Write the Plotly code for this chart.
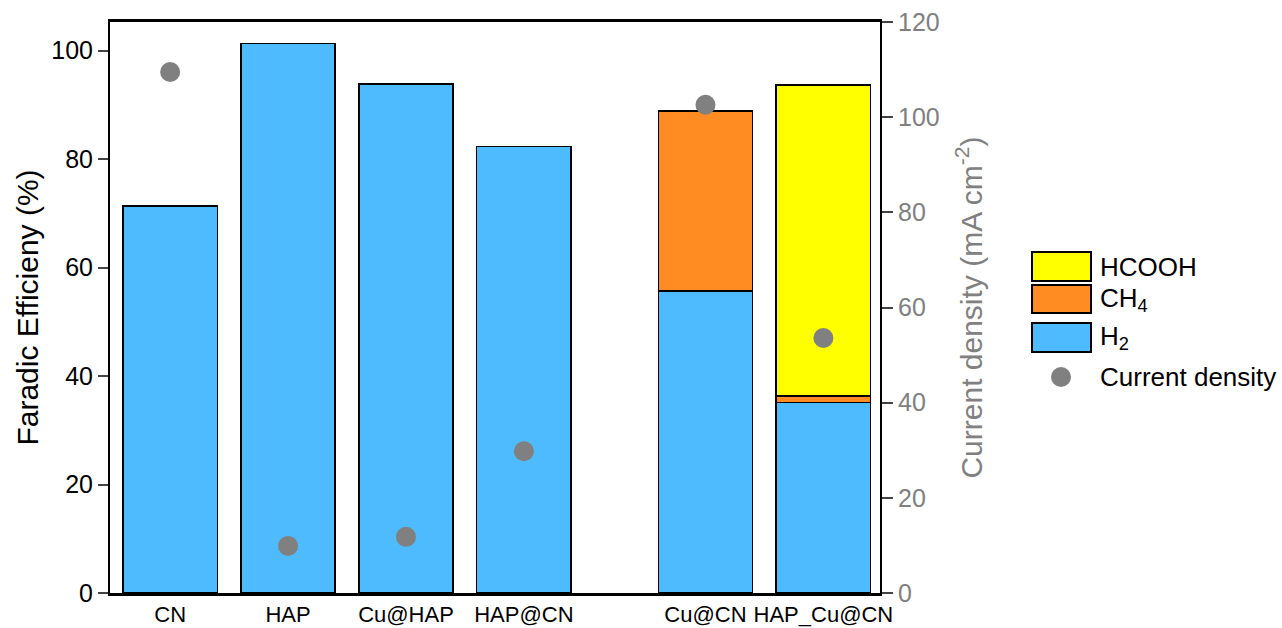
import plotly.graph_objects as go

categories = ["CN", "HAP", "Cu@HAP", "HAP@CN", "Cu@CN", "HAP_Cu@CN"]
x_pos = [0, 1, 2, 3, 4.54, 5.54]
h2 = [71.4, 101.3, 93.9, 82.3, 55.7, 35.1]
ch4 = [0, 0, 0, 0, 33.2, 1.2]
hcooh = [0, 0, 0, 0, 0, 57.4]
current_density = [109.5, 9.9, 11.8, 29.8, 102.6, 53.6]

legend_labels = ["HCOOH", "CH<sub>4</sub>", "H<sub>2</sub>", "Current density"]
legend_colors = ["#FFFF00", "#FF8C22", "#4DBBFE", "#808080"]

FONT = "Liberation Sans"
line = dict(color="black", width=1.5)

fig = go.Figure()
fig.add_trace(go.Bar(x=x_pos, y=h2, name="H2", marker=dict(color="#4DBBFE", line=line), width=0.8))
fig.add_trace(go.Bar(x=x_pos, y=ch4, name="CH4", marker=dict(color="#FF8C22", line=line), width=0.8))
fig.add_trace(go.Bar(x=x_pos, y=hcooh, name="HCOOH", marker=dict(color="#FFFF00", line=line), width=0.8))
fig.add_trace(go.Scatter(x=x_pos, y=current_density, yaxis="y2", mode="markers", name="Current density",
                         marker=dict(color="#808080", size=20)))

# Legend (drawn in paper coordinates, outside the plot area)
def px_x(p):
    return (p - 110) / 770

def px_y(p):
    return (593 - p) / 571

swatches = [(252, 281), (285, 313), (323, 352)]
text_y = [267, 299, 337, 377]
shapes = []
for (t, b), col in zip(swatches, legend_colors[:3]):
    shapes.append(dict(type="rect", xref="paper", yref="paper", x0=px_x(1032), x1=px_x(1091),
                       y0=px_y(b), y1=px_y(t), fillcolor=col, line=dict(color="black", width=2)))
shapes.append(dict(type="circle", xref="paper", yref="paper", x0=px_x(1051), x1=px_x(1071),
                   y0=px_y(387), y1=px_y(367), fillcolor=legend_colors[3], line=dict(width=0)))
annotations = []
for lab, ty in zip(legend_labels, text_y):
    annotations.append(dict(text=lab, xref="paper", yref="paper", x=px_x(1098), y=px_y(ty),
                            xanchor="left", yanchor="middle", showarrow=False,
                            font=dict(size=26, color="black", family=FONT)))

fig.update_layout(
    width=1282, height=628,
    margin=dict(l=110, r=402, t=22, b=35),
    barmode="stack",
    showlegend=False,
    plot_bgcolor="white", paper_bgcolor="white",
    font=dict(family=FONT, size=22, color="black"),
    xaxis=dict(range=[-0.51, 6.02], tickvals=x_pos, ticktext=categories, showline=True,
               linecolor="black", linewidth=3, mirror=True, ticks="", showgrid=False,
               tickfont=dict(size=22), zeroline=False, automargin=False),
    yaxis=dict(range=[0, 105.3], tickvals=[0, 20, 40, 60, 80, 100], showline=True, linecolor="black",
               linewidth=2, ticks="outside", ticklen=10, tickwidth=2, showgrid=False, zeroline=False,
               title=dict(text="Faradic Efficieny (%)", font=dict(size=30), standoff=4),
               tickfont=dict(size=25), automargin=False),
    yaxis2=dict(range=[0, 120], tickvals=[0, 20, 40, 60, 80, 100, 120], overlaying="y", side="right",
                showline=True, linecolor="black", linewidth=2, ticks="outside", ticklen=11, tickwidth=2,
                showgrid=False, zeroline=False, tickfont=dict(size=25, color="#808080"), automargin=False,
                title=dict(text="Current density (mA cm<sup>-2</sup>)", font=dict(size=30, color="#808080"),
                           standoff=22)),
    shapes=shapes,
    annotations=annotations,
)

fig.write_html("out.html")
